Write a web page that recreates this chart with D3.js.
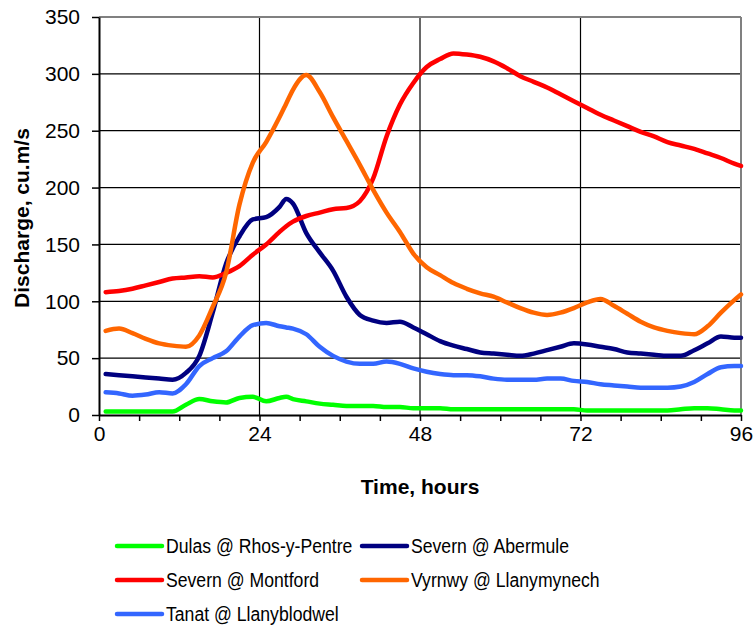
<!DOCTYPE html>
<html><head><meta charset="utf-8">
<script src="https://cdn.jsdelivr.net/npm/d3@7"></script>
<style>body{margin:0;background:#fff}svg{display:block;font-family:Arial,"Liberation Sans",sans-serif}</style>
</head><body><svg id="c" width="755" height="628"></svg>
<script>
const hours = [1,3,5,7,9,11,13,15,17,19,21,23,25,27,28,29,31,33,35,37,39,41,43,45,47,49,51,53,55,57,59,61,63,65,67,69,71,73,75,77,79,81,83,85,87,89,91,93,95,96];
const dulas = [3,3,3,3,3,3,9,14,12,11,15,16,12,15,16,14,12,10,9,8,8,8,7,7,6,6,6,5,5,5,5,5,5,5,5,5,5,4,4,4,4,4,4,4,5,6,6,5,4,4];
const abermule = [36,35,34,33,32,31,37,52,90,133,157,172,174,183,190,186,160,143,127,104,88,83,81,82,77,71,65,61,58,55,54,53,52,54,57,60,63,62,60,58,55,54,53,52,52,57,63,69,68,68];
const montford = [108,109,111,114,117,120,121,122,121,125,131,141,150,161,166,170,175,178,181,182,188,208,245,273,292,306,313,318,317,315,311,305,298,293,288,282,276,270,264,259,254,249,245,240,237,234,230,226,221,219];
const vyrnwy = [74,76,72,67,63,61,60,70,95,125,185,222,240,262,274,286,299,284,262,241,220,198,178,161,142,130,123,116,111,107,104,99,94,90,88,90,94,99,102,96,89,82,77,74,72,71,78,90,101,106];
const tanat = [20,19,17,18,20,19,27,43,50,56,69,79,81,78,77,76,71,60,52,47,45,45,47,45,41,38,36,35,35,34,32,31,31,31,32,32,30,29,27,26,25,24,24,24,25,29,36,42,43,43];
const seriesNames = ["Dulas @ Rhos-y-Pentre","Severn @ Abermule","Severn @ Montford","Vyrnwy @ Llanymynech","Tanat @ Llanyblodwel"];
const seriesValues = [dulas, abermule, montford, vyrnwy, tanat];
const colors = ["#00ff00","#000080","#ff0000","#ff6600","#3366ff"];
const xTickLabels = [0,24,48,72,96];
const yTickLabels = [0,50,100,150,200,250,300,350];

const svg = d3.select("#c");
const L=99,R=741,T=17,B=415;
const x = d3.scaleLinear().domain([0,96]).range([L,R]);
const y = d3.scaleLinear().domain([0,350]).range([B,T]);
const FONT = "Arial, 'Liberation Sans', sans-serif";

// grid
svg.append("g").selectAll("line").data(yTickLabels.filter(v=>v>0&&v<350)).join("line")
  .attr("x1",L).attr("x2",R).attr("y1",d=>y(d)).attr("y2",d=>y(d)).attr("stroke","#000").attr("stroke-width",1.2);
svg.append("g").selectAll("line").data([24,48,72]).join("line")
  .attr("y1",T).attr("y2",B).attr("x1",d=>x(d)).attr("x2",d=>x(d)).attr("stroke","#000").attr("stroke-width",1.2);
// frame top/right
svg.append("line").attr("x1",L).attr("x2",R).attr("y1",T).attr("y2",T).attr("stroke","#808080").attr("stroke-width",2);
svg.append("line").attr("x1",R).attr("x2",R).attr("y1",T).attr("y2",B).attr("stroke","#808080").attr("stroke-width",2);

// axes
const yAxis = svg.append("g").attr("transform",`translate(${L},0)`)
  .call(d3.axisLeft(y).tickValues(yTickLabels).tickSize(7).tickSizeOuter(0).tickPadding(12));
const xAxis = svg.append("g").attr("transform",`translate(0,${B})`)
  .call(d3.axisBottom(x).tickValues(d3.range(0,97,6)).tickSize(6).tickSizeOuter(0).tickPadding(5)
    .tickFormat(d=>xTickLabels.includes(d)?d:""));
[yAxis,xAxis].forEach(a=>{
  a.selectAll("path").attr("stroke","#000").attr("stroke-width",2);
  a.selectAll("line").attr("stroke","#000").attr("stroke-width",1.5);
  a.selectAll("text").attr("fill","#000").style("font-size","21px").style("font-family",FONT);
});

// lines
const line = d3.line().x((d,i)=>x(hours[i])).y(d=>y(d)).curve(d3.curveMonotoneX);
seriesValues.forEach((vals,k)=>{
  svg.append("path").datum(vals).attr("d",line).attr("fill","none")
    .attr("stroke",colors[k]).attr("stroke-width",4.5).attr("stroke-linejoin","round").attr("stroke-linecap","round");
});

// titles
svg.append("text").attr("transform","translate(29,218) rotate(-90)").attr("text-anchor","middle")
  .style("font-weight","bold").style("font-size","21px").text("Discharge, cu.m/s");
svg.append("text").attr("x",420).attr("y",494).attr("text-anchor","middle")
  .style("font-weight","bold").style("font-size","21px").text("Time, hours");

// legend
const legPos = [[117,546],[362,546],[117,580],[362,580],[117,614]];
seriesNames.forEach((n,k)=>{
  const [lx,ly]=legPos[k];
  svg.append("line").attr("x1",lx).attr("x2",lx+45).attr("y1",ly).attr("y2",ly)
    .attr("stroke",colors[k]).attr("stroke-width",4.5).attr("stroke-linecap","round");
  svg.append("text").attr("transform",`translate(${lx+49},${ly+7}) scale(0.84,1)`)
    .style("font-size","21px").text(n);
});
</script></body></html>
